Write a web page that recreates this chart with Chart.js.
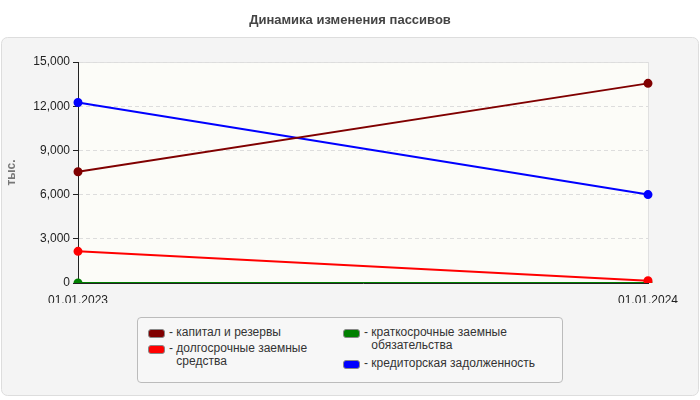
<!DOCTYPE html>
<html><head><meta charset="utf-8">
<script src="https://cdn.jsdelivr.net/npm/chart.js@4"></script>
<style>
body{margin:0;background:#fff;font-family:Arial,"Liberation Sans",sans-serif}
#wrap{position:relative;width:700px;height:400px}
#title{position:absolute;top:12px;left:0;width:700px;text-align:center;font-weight:bold;font-size:13px;color:#444}
#legend{position:absolute;left:137px;top:317px;width:424px;height:64px;border:1px solid #bbb;border-radius:4px;background:#f7f7f7;font-size:12px;color:#333}
.item{position:absolute;display:flex;line-height:13px}
.sw{width:15px;height:7px;border:1px solid #888;border-radius:3px;margin:3px 4px 0 0;flex:none}
</style></head><body>
<div id="wrap">
<canvas id="c" width="700" height="400"></canvas>
<div id="title">Динамика изменения пассивов</div>
<div id="legend"></div>
</div>
<script>
const labels = ['01.01.2023', '01.01.2024'];
const seriesNames = ['капитал и резервы', 'долгосрочные заемные средства', 'краткосрочные заемные обязательства', 'кредиторская задолженность'];
const seriesColors = ['#800000', '#ff0000', '#008000', '#0000ff'];
const capital = [7550, 13550];
const longTerm = [2150, 150];
const shortTerm = [0, 0];
const payables = [12250, 6000];
const values = [capital, longTerm, shortTerm, payables];

// legend in html, two columns
const legendPos = [[10, 8, 'капитал и резервы'], [10, 24, 'долгосрочные заемные<br>средства'], [205, 8, 'краткосрочные заемные<br>обязательства'], [205, 39, 'кредиторская задолженность']];
const lg = document.getElementById('legend');
legendPos.forEach((p, i) => {
    lg.innerHTML += `<div class="item" style="left:${p[0]}px;top:${p[1]}px"><div class="sw" style="background:${seriesColors[i]}"></div><span>-&nbsp;</span><span>${p[2]}</span></div>`;
});

const bgPlugin = {
    id: 'bg',
    beforeDraw(chart) {
        const c = chart.ctx, a = chart.chartArea;
        c.save();
        c.fillStyle = '#f4f4f4';
        c.strokeStyle = '#ddd';
        c.beginPath();
        c.roundRect(1.5, 37.5, 697, 358, 6);
        c.fill(); c.stroke();
        c.fillStyle = '#fcfcf8';
        c.fillRect(a.left, a.top, a.right - a.left, a.bottom - a.top);
        c.strokeStyle = '#e0e0e0';
        c.strokeRect(a.left + 0.5, a.top + 0.5, a.right - a.left, a.bottom - a.top);
        c.restore();
    }
};

new Chart(document.getElementById('c'), {
    type: 'line',
    data: {
        labels: labels,
        datasets: values.map((v, i) => ({
            label: seriesNames[i],
            data: v,
            borderColor: seriesColors[i],
            backgroundColor: seriesColors[i],
            borderWidth: 2,
            pointRadius: 3.5,
            pointHoverRadius: 4
        }))
    },
    options: {
        responsive: false,
        animation: false,
        layout: { padding: { top: 62, right: 52, bottom: 97, left: 0 } },
        plugins: { legend: { display: false }, tooltip: { enabled: false } },
        scales: {
            x: {
                offset: false,
                afterFit: s => { s.height = 20; },
                grid: { display: false, drawTicks: true },
                border: { color: '#222' },
                ticks: { color: '#222', font: { size: 12, family: 'Arial' }, maxRotation: 0, padding: 2 }
            },
            y: {
                min: 0, max: 15000,
                afterFit: s => { s.width = 78; },
                ticks: { stepSize: 3000, color: '#222', font: { size: 12, family: 'Arial' } },
                grid: { color: '#ddd', tickColor: '#222', tickLength: 5, drawOnChartArea: true },
                border: { color: '#222', dash: [4, 3] },
                title: { display: true, text: 'тыс.', color: '#777', font: { size: 12, weight: 'bold', family: 'Arial' } }
            }
        }
    },
    plugins: [bgPlugin]
});
</script>
</body></html>
